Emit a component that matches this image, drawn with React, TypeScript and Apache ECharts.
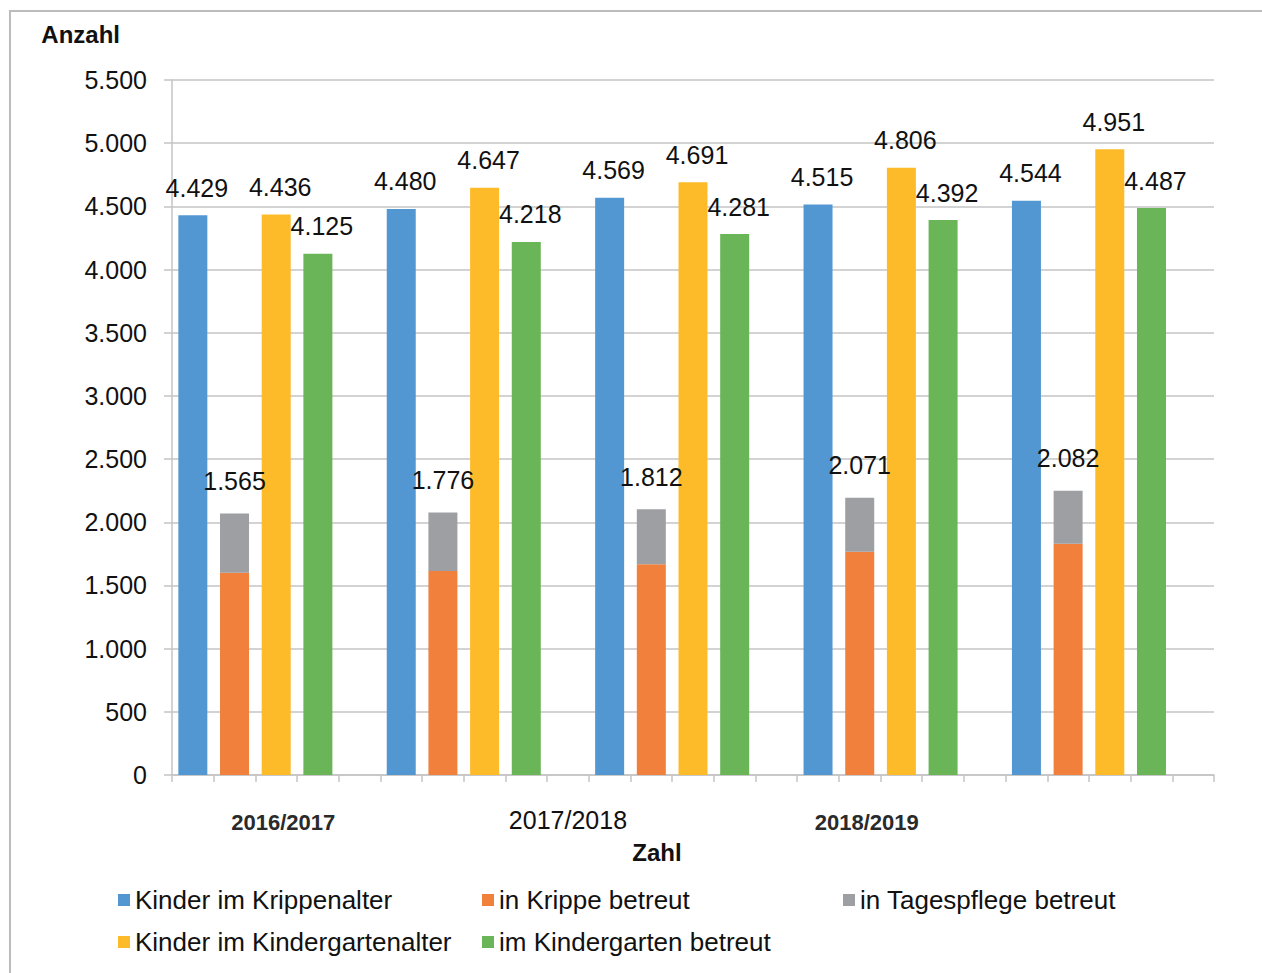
import React, { useEffect, useRef } from "react";
import * as echarts from "echarts";

// Each school year occupies five slots on the category axis:
// Krippenalter | Krippe + Tagespflege | Kindergartenalter | Kindergarten | gap
const slotLabels = [
  "", "", "2016/2017", "", "",
  "", "", "", "", "2017/2018",
  "", "", "", "", "",
  "", "2018/2019", "", "", "",
  "", "", "", "", "",
];

const kinderKrippenalter = [4429, 4480, 4569, 4515, 4544];
const inKrippeBetreut = [1600, 1614, 1667, 1767, 1830];
const inTagespflegeBetreut = [470, 464, 437, 427, 419];
const krippeBeschriftung = [1565, 1776, 1812, 2071, 2082];
const kinderKindergartenalter = [4436, 4647, 4691, 4806, 4951];
const imKindergartenBetreut = [4125, 4218, 4281, 4392, 4487];

const yTicks = { min: 0, max: 5500, interval: 500 };

const SLOTS_PER_YEAR = 5;
const FONT = "'Liberation Sans', Arial, sans-serif";

const fmt = (n: number) =>
  String(Math.round(n)).replace(/\B(?=(\d{3})+(?!\d))/g, ".");

// spread the five yearly values into their slot position
const toSlots = (values: number[], offset: number) => {
  const out: (number | null)[] = slotLabels.map(() => null);
  values.forEach((v, i) => {
    out[i * SLOTS_PER_YEAR + offset] = v;
  });
  return out;
};

const COLORS = {
  blue: "#5397d2",
  orange: "#f0803c",
  gray: "#9d9fa3",
  yellow: "#fdbb2a",
  green: "#6ab557",
};

const valueLabel = {
  show: true,
  position: "top" as const,
  distance: 15,
  offset: [4, 0],
  fontFamily: FONT,
  fontSize: 25,
  color: "#111",
  formatter: (p: any) => fmt(p.value),
};

export default function App() {
  const ref = useRef<HTMLDivElement>(null);

  useEffect(() => {
    if (!ref.current) return;
    const chart = echarts.init(ref.current, null, { renderer: "svg" });

    const barBase = {
      type: "bar" as const,
      barWidth: 29,
      barGap: "-100%",
    };

    const gridLine = { color: "#c4c4c4", width: 1.5 };

    chart.setOption({
      animation: false,
      backgroundColor: "#ffffff",
      textStyle: { fontFamily: FONT },
      grid: {
        left: 172,
        right: 48,
        top: 80,
        bottom: 198,
        outerBoundsMode: "none",
      },
      xAxis: {
        type: "category",
        data: slotLabels,
        name: "Zahl",
        nameLocation: "middle",
        nameGap: 65,
        nameTextStyle: {
          fontFamily: FONT,
          fontSize: 24,
          fontWeight: "bold",
          color: "#111",
          padding: [0, 72, 0, 0],
        },
        axisLine: { show: true, lineStyle: gridLine },
        axisTick: { show: true, interval: 0, length: 7, lineStyle: gridLine },
        axisLabel: {
          interval: 0,
          margin: 32,
          formatter: (v: string, i: number) =>
            v === "" ? "" : i === 9 ? `{m|${v}}` : `{s|${v}}`,
          rich: {
            s: {
              fontFamily: FONT,
              fontSize: 22,
              fontWeight: "bold",
              color: "#2a2a2a",
              padding: [4, 0, 0, 14],
            },
            m: {
              fontFamily: FONT,
              fontSize: 25,
              color: "#111",
            },
          },
        },
      },
      yAxis: {
        type: "value",
        min: yTicks.min,
        max: yTicks.max,
        interval: yTicks.interval,
        name: "Anzahl",
        nameLocation: "end",
        nameGap: 34,
        nameTextStyle: {
          fontFamily: FONT,
          fontSize: 24,
          fontWeight: "bold",
          color: "#111",
          align: "right",
          padding: [0, 52, 0, 0],
        },
        axisLine: { show: true, lineStyle: gridLine },
        axisTick: { show: true, length: 8, lineStyle: gridLine },
        splitLine: { show: true, lineStyle: gridLine },
        axisLabel: {
          margin: 25,
          fontFamily: FONT,
          fontSize: 25,
          color: "#111",
          formatter: (v: number) => fmt(v),
        },
      },
      legend: [
        {
          data: ["Kinder im Krippenalter", "Kinder im Kindergartenalter"],
          left: 113,
        },
        {
          data: ["in Krippe betreut", "im Kindergarten betreut"],
          left: 477,
        },
        {
          data: ["in Tagespflege betreut"],
          left: 838,
        },
      ].map((l) => ({
        ...l,
        orient: "vertical",
        top: 882,
        itemGap: 16,
        icon: "rect",
        itemWidth: 12,
        itemHeight: 12,
        textStyle: {
          fontFamily: FONT,
          fontSize: 26,
          color: "#111",
          padding: [0, 0, 0, 0],
        },
      })),
      graphic: [
        {
          type: "polyline",
          silent: true,
          shape: {
            points: [
              [10, 973],
              [10, 11],
              [1262, 11],
            ],
          },
          style: { stroke: "#bcbcbc", lineWidth: 2, fill: "none" },
        },
      ],
      series: [
        {
          ...barBase,
          name: "Kinder im Krippenalter",
          data: toSlots(kinderKrippenalter, 0),
          itemStyle: { color: COLORS.blue },
          label: valueLabel,
        },
        {
          ...barBase,
          name: "in Krippe betreut",
          stack: "krippe",
          data: toSlots(inKrippeBetreut, 1),
          itemStyle: { color: COLORS.orange },
        },
        {
          ...barBase,
          name: "in Tagespflege betreut",
          stack: "krippe",
          data: toSlots(inTagespflegeBetreut, 1),
          itemStyle: { color: COLORS.gray },
          label: {
            show: true,
            position: "top",
            distance: 20,
            fontFamily: FONT,
            fontSize: 25,
            color: "#111",
            formatter: (p: any) =>
              fmt(krippeBeschriftung[Math.floor(p.dataIndex / SLOTS_PER_YEAR)]),
          },
        },
        {
          ...barBase,
          name: "Kinder im Kindergartenalter",
          data: toSlots(kinderKindergartenalter, 2),
          itemStyle: { color: COLORS.yellow },
          label: valueLabel,
        },
        {
          ...barBase,
          name: "im Kindergarten betreut",
          data: toSlots(imKindergartenBetreut, 3),
          itemStyle: { color: COLORS.green },
          label: valueLabel,
        },
      ],
    });

    return () => chart.dispose();
  }, []);

  return (
    <div
      ref={ref}
      style={{ position: "absolute", left: 0, top: 0, width: 1262, height: 973 }}
    />
  );
}
